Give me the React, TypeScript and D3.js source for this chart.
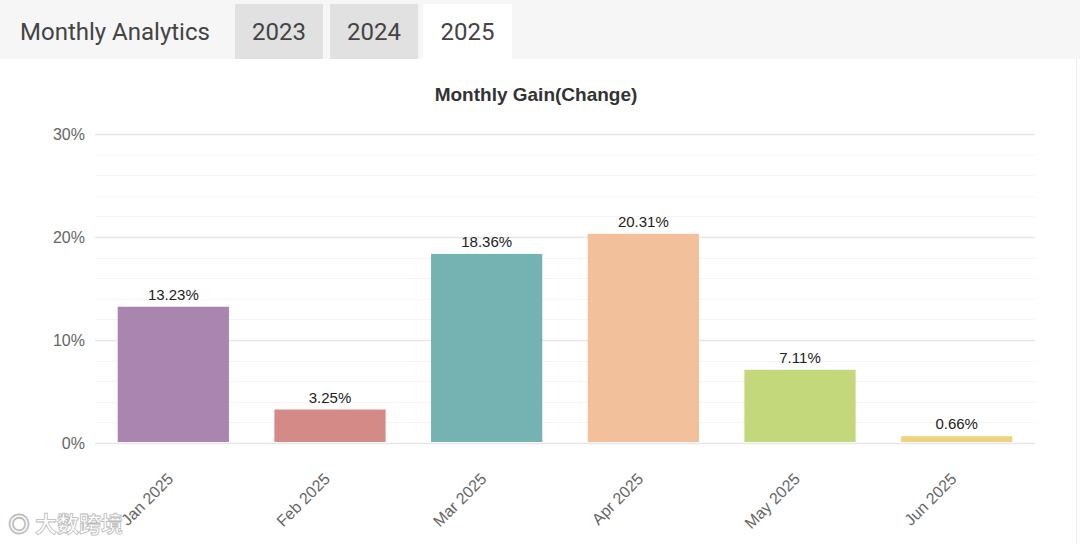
import React from "react";
import * as d3 from "d3";

const months = ["Jan 2025", "Feb 2025", "Mar 2025", "Apr 2025", "May 2025", "Jun 2025"];
const gains = [13.23, 3.25, 18.36, 20.31, 7.11, 0.66];
const barColors = ["#a985b0", "#d48a86", "#74b3b1", "#f2c09b", "#c3d77b", "#eed47f"];
const yearTabs = ["2023", "2024", "2025"];
const yTicks = [0, 10, 20, 30];

const W = 1080;
const H = 544;

export default function App() {
  const x = d3.scaleBand<string>().domain(months).range([95, 1035]).paddingInner(0.29).paddingOuter(0.145);
  const y = d3.scaleLinear().domain([0, 30]).range([443, 134]);
  const minor = d3.range(0, 31, 2);
  const tabX = [235, 330, 423];
  const tabW = [88, 88, 89];

  return (
    <svg width={W} height={H} style={{ position: "absolute", left: 0, top: 0 }}>
      <rect x={0} y={0} width={W} height={H} fill="#ffffff" />
      <rect x={0} y={0} width={W} height={59} fill="#f6f6f6" />
      <text x={20} y={40} fontFamily="Roboto" fontSize={24} fill="#444">Monthly Analytics</text>
      {yearTabs.map((t, i) => (
        <g key={t}>
          <rect x={tabX[i]} y={4} width={tabW[i]} height={55} fill={i === 2 ? "#ffffff" : "#e1e1e1"} />
          <text x={tabX[i] + tabW[i] / 2} y={40} textAnchor="middle" fontFamily="Roboto" fontSize={24} fill="#444">{t}</text>
        </g>
      ))}
      <line x1={1076.5} x2={1076.5} y1={59} y2={H} stroke="#eeeeee" />
      <text x={536} y={101} textAnchor="middle" fontFamily="Liberation Sans, Arial" fontWeight="bold" fontSize={19} fill="#333">Monthly Gain(Change)</text>
      {minor.map((v) => (
        <line key={"m" + v} x1={95} x2={1035} y1={Math.round(y(v)) + 0.5} y2={Math.round(y(v)) + 0.5} stroke={v % 10 === 0 ? "#e6e6e6" : "#f4f4f4"} strokeWidth={v % 10 === 0 ? 1.5 : 1} />
      ))}
      {yTicks.map((v) => (
        <text key={"t" + v} x={85} y={y(v) + 6} textAnchor="end" fontFamily="Liberation Sans, Arial" fontSize={16} fill="#666">{v}%</text>
      ))}
      {months.map((m, i) => (
        <g key={m}>
          <rect x={x(m)} y={y(gains[i])} width={x.bandwidth()} height={y(0) - y(gains[i]) - 1} fill={barColors[i]} />
          <text x={(x(m) as number) + x.bandwidth() / 2} y={y(gains[i]) - 7} textAnchor="middle" fontFamily="Liberation Sans, Arial" fontSize={15} fill="#222">{gains[i].toFixed(2)}%</text>
          <text transform={`translate(${(x(m) as number) + x.bandwidth() / 2 + 1},${480}) rotate(-45)`} textAnchor="end" fontFamily="Liberation Sans, Arial" fontSize={16} fill="#666">{m}</text>
        </g>
      ))}
      <text x={8} y={532} fontFamily="Noto Sans CJK SC" fontSize={22} fontWeight="bold" fill="#ffffff" stroke="#bbbbbb" strokeWidth={0.8}>◎ 大数跨境</text>
    </svg>
  );
}
